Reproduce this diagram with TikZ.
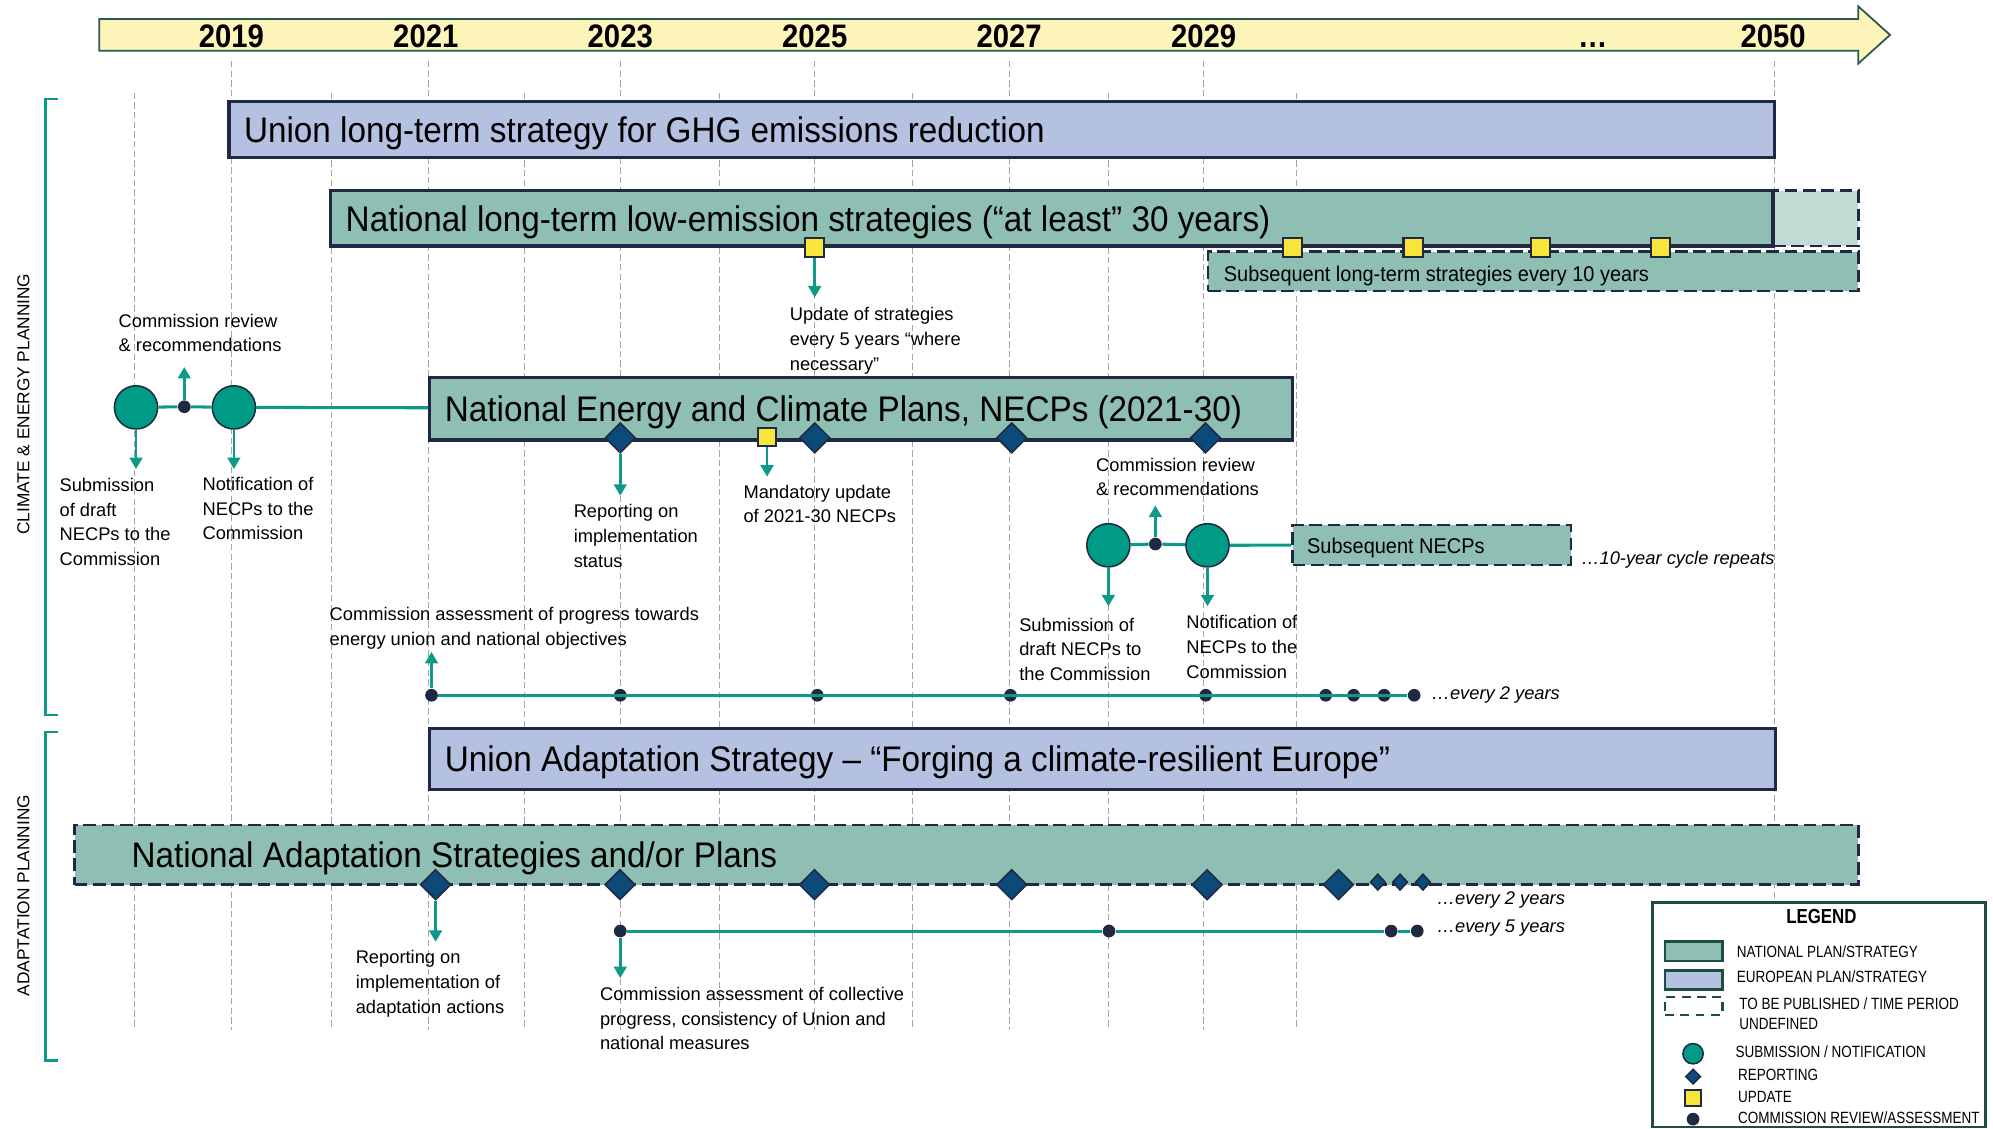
\documentclass[tikz,border=0pt]{standalone}
\usepackage{fontspec}
\setmainfont{Liberation Sans}
\newfontfamily\titlefont{Liberation Sans}[FakeStretch=0.935]
\newfontfamily\legfont{Liberation Sans}[FakeStretch=0.83]
\newfontfamily\yearfont{Liberation Sans}[FakeStretch=0.9]
\usepackage{tikz}
\usetikzlibrary{arrows.meta,positioning,shapes.geometric,fit,calc}
\definecolor{natGreen}{HTML}{8FBFB3}
\definecolor{natLight}{HTML}{C1DCD5}
\definecolor{euLav}{HTML}{B5C1E0}
\definecolor{barNavy}{HTML}{1F2944}
\definecolor{tealLine}{HTML}{0E9A88}
\definecolor{circTeal}{HTML}{009B84}
\definecolor{diaBlue}{HTML}{0C4A7A}
\definecolor{updYellow}{HTML}{F8E53C}
\definecolor{axisYellow}{HTML}{FCF4B8}
\definecolor{axisEdge}{HTML}{2C5A50}
\definecolor{gridGray}{HTML}{A4A4A4}
\definecolor{legEdge}{HTML}{1E4D45}
\tikzset{
  barbox/.style={rectangle, inner sep=0pt, line width=1.4pt, draw=barNavy},
  natbar/.style={barbox, fill=natGreen},
  eubar/.style={barbox, fill=euLav},
  tbdbar/.style={barbox, line width=1pt, dash pattern=on 5pt off 2.2pt, fill=natGreen},
  bartitle/.style={inner sep=0pt, anchor=base west, font=\titlefont\fontsize{14}{16}\selectfont},
  subtitle/.style={inner sep=0pt, anchor=base west, font=\titlefont\fontsize{8.4}{10}\selectfont},
  notetxt/.style={inner sep=0pt, anchor=north west, align=left, font=\fontsize{7.2}{9.7}\selectfont},
  inote/.style={inner sep=0pt, anchor=west, font=\itshape\fontsize{7.2}{9.7}\selectfont},
  subcirc/.style={circle, draw=barNavy, line width=0.6pt, fill=circTeal, minimum size=17pt, inner sep=0pt},
  revdot/.style={circle, fill=barNavy, minimum size=5pt, inner sep=0pt},
  repdia/.style={diamond, draw=barNavy, line width=0.6pt, fill=diaBlue, minimum width=12pt, minimum height=12pt, inner sep=0pt},
  smalldia/.style={repdia, minimum width=6pt, minimum height=6.5pt},
  updsq/.style={rectangle, draw=barNavy, line width=0.8pt, fill=updYellow, minimum size=7.5pt, inner sep=0pt},
  tarrow/.style={-{Triangle[length=4.5pt,width=5pt]}, line width=1pt, draw=tealLine},
  tline/.style={line width=1.2pt, draw=tealLine},
  gridline/.style={draw=gridGray, line width=0.4pt, dash pattern=on 2.5pt off 1.3pt},
  timearrow/.style={draw=axisEdge, line width=0.7pt, fill=axisYellow},
  yearlbl/.style={inner sep=0pt, anchor=base, font=\yearfont\bfseries\fontsize{12.8}{14}\selectfont},
  sidelbl/.style={inner sep=0pt, rotate=90, font=\fontsize{6.8}{8}\selectfont},
  brackline/.style={line width=1pt, draw=tealLine},
  legbox/.style={rectangle, draw=legEdge, line width=0.9pt, inner sep=0pt, fill=white},
  legtxt/.style={inner sep=0pt, anchor=west, align=left, font=\legfont\fontsize{6.4}{8}\selectfont}
}
\begin{document}
\begin{tikzpicture}[x=0.5pt, y=-0.5pt]
  \useasboundingbox (0,0) rectangle (1568,888);
  \foreach \x in {182,337,488,641,794,947} \draw[gridline] (\x,48) -- (\x,810);
  \foreach \x in {105.5,261,413,566,718,872,1020} \draw[gridline] (\x,73) -- (\x,810);
  \draw[gridline] (1396,48) -- (1396,709);

  \draw[timearrow] (78,15) -- (1462,15) -- (1462,5) -- (1487,27.5) -- (1462,50) -- (1462,40) -- (78,40) -- cycle;
  \foreach \yr/\x in {2019/182,2021/335,2023/488,2025/641,2027/794,2029/947,2050/1395}
    \node[yearlbl] (y\yr) at (\x,37) {\yr};
  \node[yearlbl] (ydots) at (1253,37) {…};

  \node[sidelbl] (cepl) at (18.5,318) {CLIMATE \& ENERGY PLANNING};
  \draw[brackline] (46,78) -- (36,78) -- (36,562.5) -- (46,562.5);
  \node[sidelbl] (adpl) at (18.5,704.6) {ADAPTATION PLANNING};
  \draw[brackline] (46,576) -- (36,576) -- (36,834.5) -- (46,834.5);

  \node[eubar, fit={(180,80) (1396,124)}] (ulgs) {};
  \node[bartitle] (ulgst) at ([xshift=6.5pt,yshift=-5pt]ulgs.west) {Union long-term strategy for GHG emissions reduction};

  \node[tbdbar, fill=natLight, fit={(1395,150) (1462,193.5)}] (nltsx) {};
  \node[natbar, fit={(260,150) (1395,193.5)}] (nlts) {};
  \node[bartitle] (nltst) at ([xshift=6.5pt,yshift=-5pt]nlts.west) {National long-term low-emission strategies (“at least” 30 years)};
  \node[tbdbar, fit={(950.5,198) (1462,229)}] (slts) {};
  \node[subtitle] (sltst) at ([xshift=6.5pt,yshift=-3.9pt]slts.west) {Subsequent long-term strategies every 10 years};
  \node[updsq] (u1) at (641,194.5) {};
  \node[updsq] (u2) at (1017,194.5) {};
  \node[updsq] (u3) at (1111.7,194.5) {};
  \node[updsq] (u4) at (1211.8,194.5) {};
  \node[updsq] (u5) at (1306.5,194.5) {};
  \node[notetxt] (upd5) at (621,241.5) {Update of strategies\\every 5 years “where\\necessary”};
  \draw[tarrow, shorten >=3.75pt] (u1) -- (u1 |- upd5.north);

  \node[natbar, fit={(338,297) (1017,346)}] (necp) {};
  \node[bartitle] (necpt) at ([xshift=6.5pt,yshift=-5pt]necp.west) {National Energy and Climate Plans, NECPs (2021-30)};
  \node[repdia] (r1) at (488,344.5) {};
  \node[repdia] (r2) at (641,344.5) {};
  \node[repdia] (r3) at (796,344.5) {};
  \node[repdia] (r4) at (948.5,344.5) {};
  \node[updsq, minimum size=7pt] (m1) at (603.5,344) {};

  \node[subcirc] (c1) at (107,320.5) {};
  \node[revdot] (d1) at (145,320) {};
  \node[subcirc] (c2) at (184,320.5) {};
  \draw[tline] (c1) -- (d1) -- (c2) -- (necp);
  \node[notetxt] (rev1) at (93,246.5) {Commission review\\\& recommendations};
  \node[notetxt] (sub1) at (46.5,375.8) {Submission\\of draft\\NECPs to the\\Commission};
  \node[notetxt] (not1) at (159,375) {Notification of\\NECPs to the\\Commission};
  \draw[tarrow, shorten >=5.75pt] (d1) -- (d1 |- rev1.south);
  \draw[tarrow, shorten >=3.4pt] (c1) -- (c1 |- sub1.north);
  \draw[tarrow, shorten >=3pt] (c2) -- (c2 |- not1.north);

  \node[notetxt] (repst) at (451,396.7) {Reporting on\\implementation\\status};
  \node[notetxt] (mand) at (584.6,381) {Mandatory update\\of 2021-30 NECPs};
  \draw[tarrow, shorten >=3.35pt] (r1) -- (r1 |- repst.north);
  \draw[tarrow, shorten >=3pt] (m1) -- (m1 |- mand.north);

  \node[tbdbar, fit={(1017,413) (1236,444.5)}] (snecp) {};
  \node[subtitle] (snecpt) at ([xshift=6pt,yshift=-3.3pt]snecp.west) {Subsequent NECPs};
  \node[inote] (cyc) at (1243.7,440.6) {…10-year cycle repeats};
  \node[subcirc] (c3) at (872,429) {};
  \node[revdot] (d2) at (909,428) {};
  \node[subcirc] (c4) at (950,429) {};
  \draw[tline] (c3) -- (d2) -- (c4) -- (snecp);
  \node[notetxt] (rev2) at (862,359.8) {Commission review\\\& recommendations};
  \node[notetxt] (sub2) at (801.5,485.7) {Submission of\\draft NECPs to\\the Commission};
  \node[notetxt] (not2) at (933,483.9) {Notification of\\NECPs to the\\Commission};
  \draw[tarrow, shorten >=3.6pt] (d2) -- (d2 |- rev2.south);
  \draw[tarrow, shorten >=4.35pt] (c3) -- (c3 |- sub2.north);
  \draw[tarrow, shorten >=3.45pt] (c4) -- (c4 |- not2.north);

  \foreach \x [count=\i] in {339.5,488,643,795,948.6,1043,1065,1089,1112.6}
    \node[revdot] (a\i) at (\x,547) {};
  \draw[tline] (a1) \foreach \i in {2,...,9} { -- (a\i)};
  \node[inote] (ev2a) at (1126,547) {…every 2 years};
  \node[notetxt] (assess) at (259,477.3) {Commission assessment of progress towards\\energy union and national objectives};
  \draw[tarrow, shorten >=1pt] (a1) -- (a1 |- assess.south);

  \node[eubar, fit={(338,573) (1397,621)}] (uas) {};
  \node[bartitle] (uast) at ([xshift=6.5pt,yshift=-5pt]uas.west) {Union Adaptation Strategy – “Forging a climate-resilient Europe”};

  \node[tbdbar, fit={(58.7,649) (1462,696)}] (nas) {};
  \node[bartitle] (nast) at ([xshift=22.7pt,yshift=-5pt]nas.west) {National Adaptation Strategies and/or Plans};
  \foreach \x [count=\i] in {342.7,487.8,640.8,796,949.7,1053}
    \node[repdia] (n\i) at (\x,696) {};
  \foreach \x [count=\i] in {1084,1101.5,1119.5}
    \node[smalldia] (s\i) at (\x,694) {};
  \node[inote] (ev2b) at (1130,708) {…every 2 years};
  \node[notetxt] (repad) at (279.5,747.4) {Reporting on\\implementation of\\adaptation actions};
  \draw[tarrow, shorten >=3.2pt] (n1) -- (n1 |- repad.north);

  \foreach \x [count=\i] in {488,872.5,1094.5,1115}
    \node[revdot] (b\i) at (\x,732.5) {};
  \draw[tline] (b1) -- (b2) -- (b3) -- (b4);
  \node[inote] (ev5) at (1130,730.4) {…every 5 years};
  \node[notetxt] (assad) at (471.7,776.3) {Commission assessment of collective\\progress, consistency of Union and\\national measures};
  \draw[tarrow, shorten >=3.4pt] (b1) -- (b1 |- assad.north);

  \node[legbox, fit={(1300,710) (1562,886.5)}] (leg) {};
  \node[inner sep=0pt, font=\legfont\bfseries\fontsize{8}{9}\selectfont] (legt) at (1433,720.7) {LEGEND};
  \node[natbar, line width=1.1pt, draw=legEdge, minimum width=22.5pt, minimum height=7.5pt] (lnat) at (1332.5,748.5) {};
  \node[legtxt] (lnatt) at (1366,749) {NATIONAL PLAN/STRATEGY};
  \node[eubar, line width=1.1pt, draw=legEdge, minimum width=22.5pt, minimum height=7.5pt] (leu) at (1332.5,771) {};
  \node[legtxt] (leut) at (1366,768.5) {EUROPEAN PLAN/STRATEGY};
  \node[rectangle, draw=legEdge, line width=1pt, dash pattern=on 3.5pt off 2.5pt, minimum width=22.5pt, minimum height=7pt, inner sep=0pt] (ltbd) at (1332.5,791.5) {};
  \node[legtxt, anchor=north west] (ltbdt) at (1368,784.4) {TO BE PUBLISHED / TIME PERIOD\\UNDEFINED};
  \node[subcirc, minimum size=8pt] (lsub) at (1332,829) {};
  \node[legtxt] (lsubt) at (1365,827.5) {SUBMISSION / NOTIFICATION};
  \node[repdia, minimum width=6pt, minimum height=6pt] (lrep) at (1332,847) {};
  \node[legtxt] (lrept) at (1367,846) {REPORTING};
  \node[updsq, minimum size=6.5pt] (lupd) at (1332,864) {};
  \node[legtxt] (lupdt) at (1367,863) {UPDATE};
  \node[revdot] (lrev) at (1332,880.5) {};
  \node[legtxt] (lrevt) at (1367,879) {COMMISSION REVIEW/ASSESSMENT};
\end{tikzpicture}
\end{document}
